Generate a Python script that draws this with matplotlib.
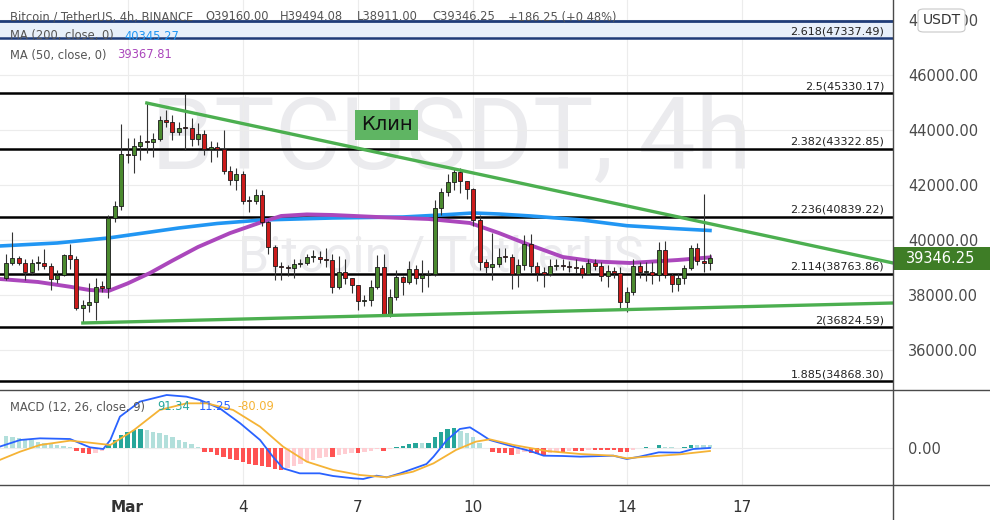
import numpy as np
import matplotlib.pyplot as plt
from matplotlib.lines import Line2D
from matplotlib.patches import Rectangle, FancyBboxPatch

W, H = 990, 520

# 4h candles, index 0 = 25 Feb 20:00 ; open of each candle = previous close
first_open = 38618
closes = [39164, 39345, 39164, 38836, 39164, 39180, 39055, 38582, 38727, 39455,
          39309, 37527, 37636, 37745, 38291, 38270, 40800, 41236, 43127, 43100,
          43418, 43563, 43560, 43672, 44363, 44290, 43927, 44072, 44060, 43672,
          43854, 43309, 43381, 43309, 42509, 42182, 42400, 41418, 41400, 41636,
          40655, 39745, 39055, 39018, 38990, 39127, 39164, 39382, 39390, 39320,
          39273, 38291, 38836, 38618, 38364, 37782, 37820, 38291, 39018, 37273,
          37927, 38655, 38473, 38945, 38618, 38727, 38750, 41164, 41745, 42109,
          42473, 42145, 41854, 40727, 39200, 39018, 39127, 39382, 39370, 38764,
          39091, 39855, 39055, 38800, 38780, 39055, 39060, 39040, 39020, 38990,
          38764, 39164, 39055, 38691, 38873, 38800, 37745, 38109, 39055, 38836,
          38850, 38727, 39636, 38727, 38400, 38618, 38982, 39709, 39236, 39160,
          39346.25]
highs = [39500, 40291, 39420, 39300, 39300, 39420, 39673, 39150, 38900, 39500,
         39855, 39400, 37800, 38436, 38618, 38500, 40900, 41400, 44218, 43709,
         43700, 43800, 44981, 43900, 44500, 44727, 44545, 44300, 45300, 44436,
         44250, 44000, 43600, 43563, 44000, 42700, 42618, 42500, 41600, 41854,
         41818, 40700, 39818, 39200, 39100, 39300, 39300, 39500, 39636, 39600,
         39700, 39500, 39400, 39300, 38600, 38300, 38000, 38550, 39455, 39500,
         38200, 38909, 38700, 39236, 39100, 39273, 38900, 41454, 41900, 42400,
         42582, 42600, 42100, 41900, 40900, 39300, 40254, 39700, 39700, 39500,
         39300, 40182, 40200, 39200, 39000, 39300, 39300, 39300, 39250, 39300,
         39100, 39300, 39300, 39200, 39100, 39000, 39000, 38300, 39300, 39200,
         39200, 39200, 39927, 39950, 38800, 38800, 39100, 39818, 39900, 41673,
         39494.08]
lows = [38550, 39100, 39080, 38550, 38780, 38900, 38950, 38182, 38450, 38700,
        38950, 37450, 36982, 37382, 37100, 38100, 37890, 40655, 41100, 42800,
        42450, 42900, 43163, 43018, 43600, 44100, 43636, 43800, 43272, 43400,
        43450, 43100, 42836, 43000, 42400, 42000, 41818, 41300, 41018, 41300,
        40500, 39500, 38545, 38550, 38700, 38600, 39000, 39100, 39200, 39150,
        39000, 38073, 38200, 38400, 38073, 37454, 37600, 37600, 38200, 37236,
        37200, 37800, 38000, 38400, 38400, 38109, 38300, 38700, 40900, 41600,
        41800, 41700, 41500, 40500, 38900, 38800, 38545, 39000, 39200, 38218,
        38300, 38900, 38800, 38500, 38291, 38700, 38900, 38900, 38850, 38800,
        38600, 38800, 38900, 38500, 38291, 38600, 37527, 37382, 38000, 38600,
        38500, 38400, 38500, 38600, 38109, 38150, 38400, 38900, 39100, 38836,
        38911]

ma200_idx = [-1, 8, 16, 22, 27, 33, 40, 51, 62, 68, 73, 77, 82, 90, 97, 104, 110]
ma200_val = [39782, 39891, 40073, 40270, 40436, 40600, 40727, 40800, 40836, 40909,
             40982, 40945, 40873, 40727, 40520, 40420, 40345.27]
ma50_idx = [-1, 5, 10, 13, 16, 19, 22.5, 26, 30, 35, 40, 43, 47, 51, 58, 66, 72.5,
            77, 81, 87, 92, 97.5, 105, 110]
ma50_val = [38582, 38473, 38300, 38182, 38145, 38420, 38800, 39250, 39745, 40250,
            40655, 40873, 40930, 40909, 40836, 40764, 40618, 40255, 39891, 39382,
            39220, 39164, 39273, 39367.81]

wedge_upper_idx = [22, 138.6]
wedge_upper_val = [44981, 39164]
wedge_lower_idx = [12, 138.6]
wedge_lower_val = [36982, 37709]

fib_ratios = ['2.618', '2.5', '2.382', '2.236', '2.114', '2', '1.885']
fib_levels = [47337.49, 45330.17, 43322.85, 40839.22, 38763.86, 36824.59, 34868.30]
top_level = 47964

macd_idx = [-1, 2.2, 5.3, 10, 11.6, 13.1, 15.2, 16.3, 17.8, 20.9, 25.1, 28.2, 30.3,
            33.4, 36.6, 39.7, 41.7, 43.3, 45.9, 49, 51.1, 54.3, 55.8, 57.9, 59.5,
            61.6, 65.7, 66.8, 68.9, 70.9, 72.5, 74, 75.6, 79.3, 81.9, 84, 87, 89.7,
            94.9, 97, 99, 102, 105.3, 107.4, 110]
macd_val = [50, 250, 300, 280, 150, 30, -20, 250, 950, 1400, 1600, 1550, 1450, 1200,
            750, 250, -250, -600, -750, -750, -830, -900, -920, -820, -870, -750,
            -470, -250, 250, 580, 630, 450, 250, 50, -80, -220, -230, -250, -220,
            -320, -250, -120, -130, -20, 11.25]
signal_idx = [-1, 2.2, 5.3, 10, 13.1, 16.3, 20, 24, 28.2, 31.4, 35.5, 39.7, 43.3, 47,
              51.1, 55.3, 59.5, 63.6, 66.8, 70.3, 73.4, 75.6, 79.3, 84.5, 89.7, 94.9,
              97, 100, 105.3, 110]
signal_val = [-350, -100, 100, 230, 170, 100, 550, 1150, 1350, 1350, 1150, 650, 50,
              -400, -650, -800, -870, -700, -450, -50, 200, 270, 100, -80, -170, -220,
              -300, -250, -180, -80.09]
hist = [370, 350, 300, 270, 250, 200, 170, 130, 100, 70, 30, -80, -150, -170, -130,
        -70, 100, 250, 400, 500, 550, 580, 550, 500, 450, 400, 330, 250, 200, 130,
        30, -100, -120, -200, -250, -320, -350, -400, -470, -500, -520, -570, -630,
        -650, -600, -530, -470, -400, -350, -300, -250, -250, -200, -170, -150, -150,
        -120, -70, -30, -70, -30, 30, 70, 130, 150, 150, 170, 330, 500, 570, 600, 530,
        450, 330, 150, 20, -120, -130, -150, -200, -170, -100, -130, -170, -200, -150,
        -100, -100, -70, -70, -70, -50, -50, -50, -50, -50, -100, -100, -50, 20, 30,
        20, 100, 50, 30, 10, 30, 100, 100, 100, 91.34]

day_ticks = [19, 37, 55, 73, 97, 115]
day_labels = ['Mar', '4', '7', '10', '14', '17']
price_ticks = [36000, 38000, 40000, 42000, 44000, 46000, 48000]


def fx(x):
    return x / W


def fy(y):
    return 1 - y / H


fig = plt.figure(figsize=(W / 100, H / 100), dpi=100, facecolor='white')
ax = fig.add_axes([0, fy(390), fx(893), 390 / H])
ax2 = fig.add_axes([0, fy(485), fx(893), 95 / H])

for a in (ax, ax2):
    a.set_xlim(-0.94, 138.6)
    for s in a.spines.values():
        s.set_visible(False)
    a.set_xticks(day_ticks)
    a.grid(True, color='#ececec', lw=0.8)
    a.set_axisbelow(True)
    a.yaxis.tick_right()
    a.tick_params(axis='both', length=0)
    a.tick_params(axis='y', pad=11, labelsize=10.5, labelcolor='#4a4a4a')

# --- main pane ---
ax.set_ylim(34545, 48727)
ax.set_yticks(price_ticks)
ax.set_yticklabels([f'{v:.2f}' for v in price_ticks])
ax.tick_params(axis='x', labelbottom=False)

# watermark
ax.text(fx(451), fy(141), 'BTCUSDT, 4h', transform=fig.transFigure, ha='center',
        va='center', fontsize=73, family='Roboto', color='#ebebee', zorder=0.5)
ax.text(fx(441), fy(258), 'Bitcoin / TetherUS', transform=fig.transFigure,
        ha='center', va='center', fontsize=36, family='Roboto', color='#ebebee',
        zorder=0.5)

# fibonacci levels
ax.axhspan(fib_levels[0], top_level, color='#e8f0fa', zorder=1)
ax.axhline(top_level, color='#1f3c78', lw=2, zorder=1.5)
for r, v in zip(fib_ratios, fib_levels):
    col = '#1f3c78' if r == '2.618' else 'black'
    ax.axhline(v, color=col, lw=1.8, zorder=1.5)
    ax.annotate(f'{r}({v:.2f})', xy=(884 / 893, v),
                xycoords=('axes fraction', 'data'), xytext=(0, 1.5),
                textcoords='offset points', ha='right', va='bottom',
                fontsize=8, color='#222')

# moving averages
ax.plot(ma200_idx, ma200_val, color='#2196f3', lw=2.6, zorder=2.5)
ax.plot(ma50_idx, ma50_val, color='#ab47bc', lw=2.8, zorder=2.5)

# candles
c = np.array(closes, dtype=float)
o = np.array([first_open] + closes[:-1], dtype=float)
hi = np.maximum(np.array(highs, dtype=float), np.maximum(o, c))
lo = np.minimum(np.array(lows, dtype=float), np.minimum(o, c))
x = np.arange(len(c))
up = c >= o
ax.vlines(x, lo, hi, color='#333333', lw=0.8, zorder=3)
ax.bar(x, np.maximum(np.abs(c - o), 40), bottom=np.minimum(o, c), width=0.62,
       color=np.where(up, '#4b8a2f', '#cc1b1b'), edgecolor='#1a1a1a',
       linewidth=0.6, zorder=4)

# wedge
ax.plot(wedge_upper_idx, wedge_upper_val, color='#4caf50', lw=2.4, zorder=5)
ax.plot(wedge_lower_idx, wedge_lower_val, color='#4caf50', lw=2.4, zorder=5)
ax.text(59.5, 44182, 'Клин', fontsize=14, color='#111', ha='center', va='center',
        zorder=6, bbox=dict(boxstyle='square,pad=0.3', fc='#5fb563', ec='none'))

# --- MACD pane ---
ax2.set_ylim(-1100, 1750)
ax2.set_yticks([0])
ax2.set_yticklabels(['0.00'])
ax2.tick_params(axis='x', pad=11, labelsize=11, labelcolor='#333')
ax2.set_xticklabels(day_labels)
ax2.get_xticklabels()[0].set_fontweight('bold')

hcol = []
prev = hist[0]
for h in hist:
    if h >= 0:
        hcol.append('#26a69a' if h > prev else '#b2dfdb')
    else:
        hcol.append('#ffcdd2' if h > prev else '#ff5252')
    prev = h
ax2.bar(np.arange(len(hist)), hist, width=0.68, color=hcol, zorder=2)
ax2.plot(macd_idx, macd_val, color='#2962ff', lw=1.3, zorder=3)
ax2.plot(signal_idx, signal_val, color='#f5b335', lw=1.3, zorder=3)

# --- separators ---
for yy in (390, 485):
    fig.add_artist(Line2D([0, 1], [fy(yy)] * 2, transform=fig.transFigure,
                          color='#4a4a4a', lw=1))
fig.add_artist(Line2D([fx(893)] * 2, [0, 1], transform=fig.transFigure,
                      color='#4a4a4a', lw=1))

# --- legends ---
fs = 8.3
hdr_parts = [(10, 'Bitcoin / TetherUS, 4h, BINANCE'), (205, 'O39160.00'),
             (280, 'H39494.08'), (357, 'L38911.00'), (432, 'C39346.25'),
             (508, '+186.25 (+0.48%)')]
for xx, t in hdr_parts:
    fig.text(fx(xx), fy(17), t, fontsize=fs, color='#555', va='center')
fig.text(fx(10), fy(36), 'MA (200, close, 0)', fontsize=fs, color='#555', va='center')
fig.text(fx(124), fy(36), '40345.27', fontsize=fs, color='#2196f3', va='center')
fig.text(fx(10), fy(55), 'MA (50, close, 0)', fontsize=fs, color='#555', va='center')
fig.text(fx(117), fy(55), '39367.81', fontsize=fs, color='#ab47bc', va='center')
fig.text(fx(10), fy(407), 'MACD (12, 26, close, 9)', fontsize=fs, color='#555', va='center')
fig.text(fx(157), fy(407), '91.34', fontsize=fs, color='#26a69a', va='center')
fig.text(fx(199), fy(407), '11.25', fontsize=fs, color='#2962ff', va='center')
fig.text(fx(237), fy(407), '-80.09', fontsize=fs, color='#f5b335', va='center')

# price badge and currency badge
fig.add_artist(Rectangle((fx(893), fy(270)), fx(97), 23 / H, transform=fig.transFigure,
                         fc='#3e7d26', ec='none'))
fig.text(fx(906), fy(258.5), '39346.25', fontsize=10.5, color='white', va='center')
fig.add_artist(FancyBboxPatch((fx(918), fy(32)), fx(47), 23 / H,
                              boxstyle='round,pad=0,rounding_size=0.006',
                              transform=fig.transFigure, fc='white', ec='#c8c8c8', lw=0.8))
fig.text(fx(941.5), fy(20.5), 'USDT', fontsize=10, color='#333', ha='center', va='center')

fig.savefig('out.png', dpi=100, facecolor='white')
